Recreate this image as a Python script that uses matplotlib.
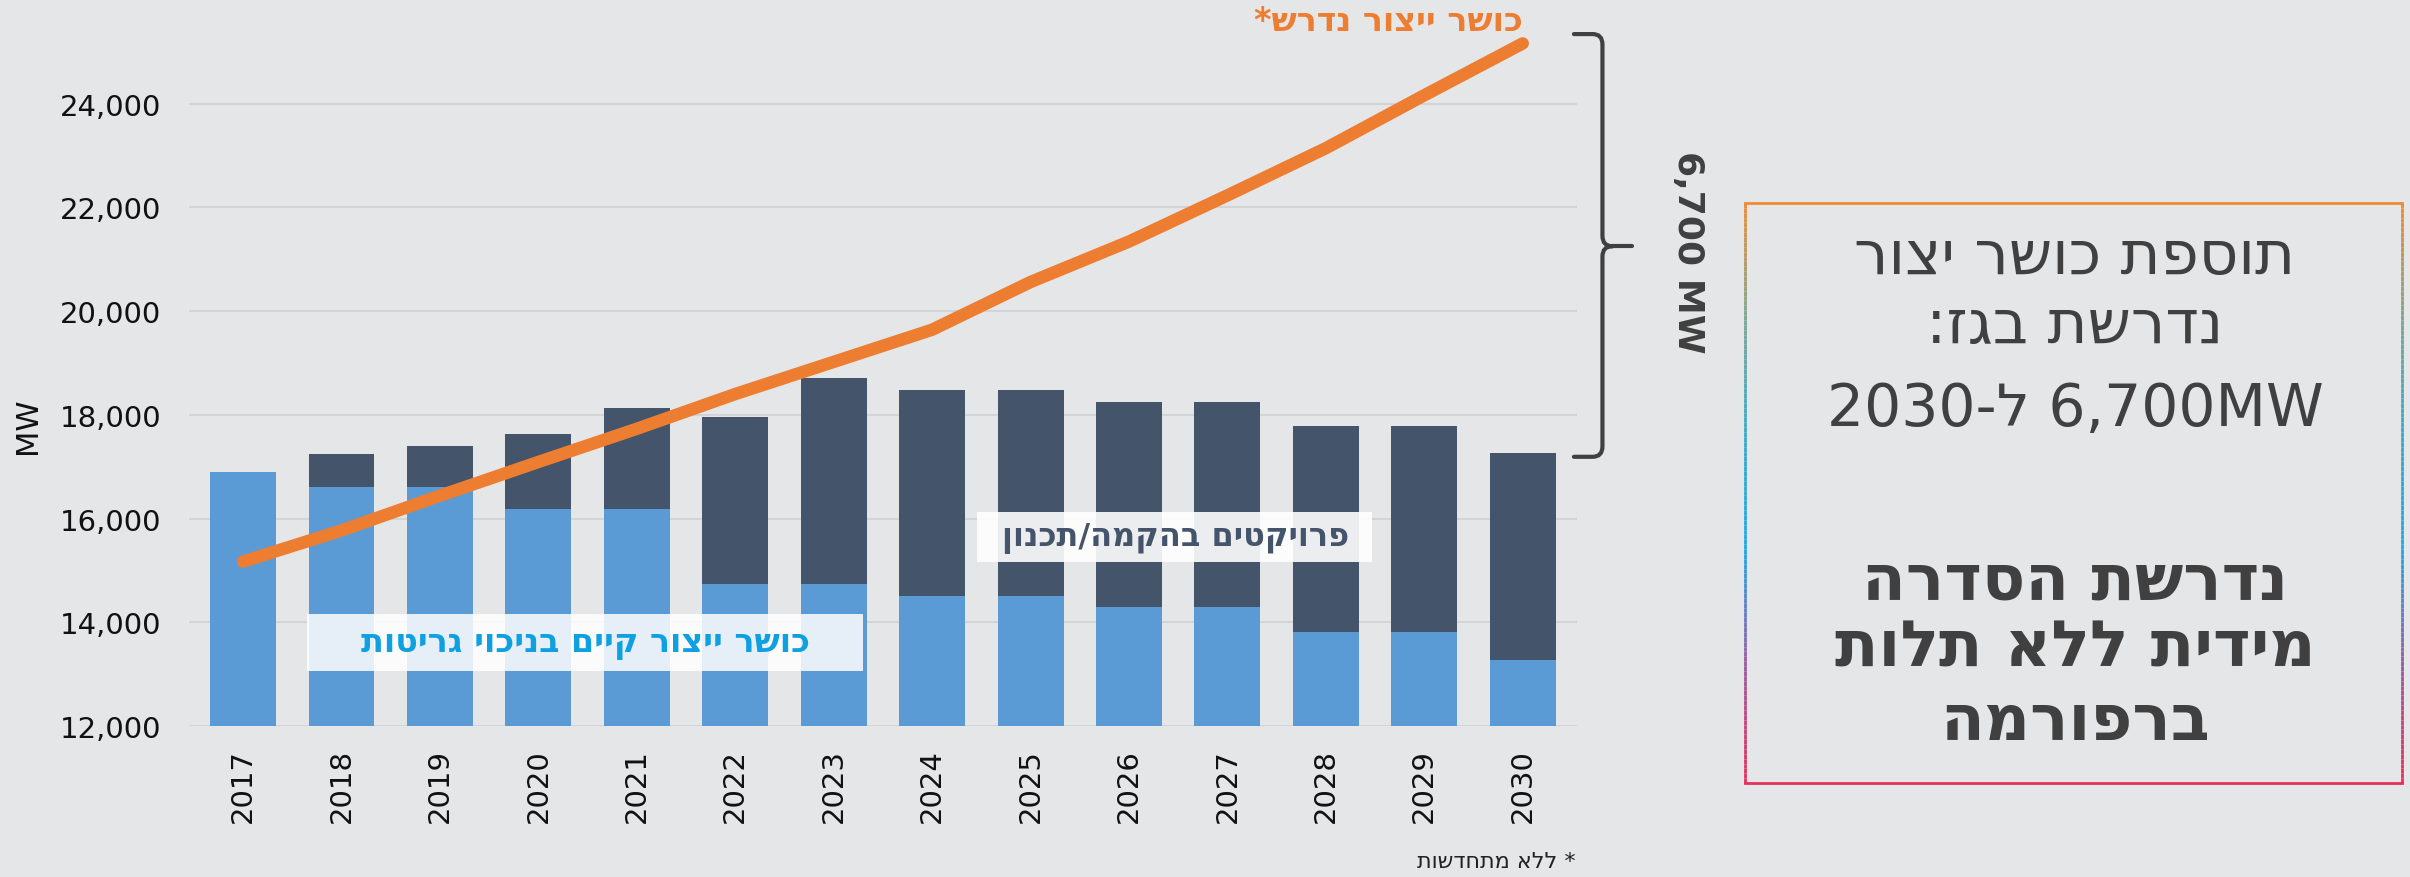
import numpy as np
import matplotlib.pyplot as plt
from matplotlib.path import Path
from matplotlib.patches import PathPatch, Rectangle
from matplotlib.collections import LineCollection
from matplotlib.colors import LinearSegmentedColormap

plt.rcParams['font.family'] = ['DejaVu Sans']

years = ['2017', '2018', '2019', '2020', '2021', '2022', '2023',
         '2024', '2025', '2026', '2027', '2028', '2029', '2030']
# existing capacity net of retirements (MW)
existing = [16890, 16610, 16610, 16180, 16180, 14730, 14730,
            14500, 14500, 14290, 14290, 13810, 13810, 13280]
# existing + projects under construction / planning (MW)
total = [16890, 17240, 17390, 17620, 18140, 17950, 18700,
         18480, 18480, 18250, 18250, 17790, 17790, 17260]
# required capacity (MW)
required = [15170, 15770, 16440, 17090, 17730, 18400, 19020,
            19640, 20560, 21340, 22230, 23140, 24160, 25160]
yticks = [12000, 14000, 16000, 18000, 20000, 22000, 24000]


def rtl(s):
    # matplotlib has no bidi support, so hebrew is drawn reversed
    return s[::-1]


bg = '#e5e6e8'
blue = '#5b9bd5'
navy = '#44546a'
orange = '#ed7d31'
dark = '#404040'

fig = plt.figure(figsize=(24.1, 8.78), dpi=100, facecolor=bg)
ax = fig.add_axes([0.0784, 0.172, 0.5759, 0.7975])
ax.set_facecolor('none')

x = np.arange(len(years))
projects = np.array(total) - np.array(existing)
ax.bar(x, existing, width=0.67, color=blue, zorder=2)
ax.bar(x, projects, bottom=existing, width=0.67, color=navy, zorder=2)
ax.plot(x, required, color=orange, lw=9, solid_capstyle='round',
        solid_joinstyle='round', zorder=5, clip_on=False)

ax.set_xlim(-0.55, 13.55)
ax.set_ylim(12000, 25500)
ax.set_yticks(yticks, [f'{v:,}' for v in yticks])
ax.set_xticks(x, years, rotation=90)
ax.tick_params(length=0, labelsize=21, colors='#111111')
ax.tick_params(axis='x', pad=16)
ax.tick_params(axis='y', pad=20)
ax.grid(axis='y', color='#d3d4d6', lw=1.5, zorder=0)
ax.set_axisbelow(True)
for s in ax.spines.values():
    s.set_visible(False)

fig.text(0.0116, 0.515, 'MW', rotation=90, fontsize=22, color='#111111',
         ha='center', va='center')

# series labels inside the chart
ax.add_patch(Rectangle((0.65, 13060), 5.65, 1100, facecolor='white',
                       alpha=0.85, edgecolor='none', zorder=3))
ax.text(3.48, 13610, rtl('כושר ייצור קיים בניכוי גריטות'), color='#0ea0e0',
        fontsize=24, fontweight='bold', ha='center', va='center', zorder=4)
ax.add_patch(Rectangle((7.46, 15160), 4.01, 966, facecolor='white',
                       alpha=0.9, edgecolor='none', zorder=3))
ax.text(9.47, 15640, rtl('פרויקטים בהקמה/תכנון'), color=navy,
        fontsize=23, fontweight='bold', ha='center', va='center', zorder=4)

fig.text(0.576, 0.975, rtl('כושר ייצור נדרש*'), color=orange, fontsize=24,
         fontweight='bold', ha='center', va='center')

# curly bracket for the gap
top, mid, bot = 25340, 21250, 17190
xl, xv, xt = 13.52, 13.81, 14.11
r = 200
verts = [(xl, top), (xv - 0.1, top), (xv, top), (xv, top - r),
         (xv, mid + r), (xv, mid), (xv + 0.1, mid),
         (xv + 0.1, mid), (xv, mid), (xv, mid - r),
         (xv, bot + r), (xv, bot), (xv - 0.1, bot), (xl, bot)]
codes = [Path.MOVETO, Path.LINETO, Path.CURVE3, Path.CURVE3,
         Path.LINETO, Path.CURVE3, Path.CURVE3,
         Path.MOVETO, Path.CURVE3, Path.CURVE3,
         Path.LINETO, Path.CURVE3, Path.CURVE3, Path.LINETO]
ax.add_patch(PathPatch(Path(verts, codes), facecolor='none', edgecolor=dark,
                       lw=3, clip_on=False, zorder=4, capstyle='round'))
ax.plot([xv + 0.1, xt], [mid, mid], color=dark, lw=3, clip_on=False,
        solid_capstyle='round', zorder=4)
fig.text(0.7004, 0.713, '6,700 MW', rotation=270, fontsize=26,
         fontweight='bold', color=dark, ha='center', va='center')

# right hand box with gradient border
bx0, bx1, by0, by1 = 0.724, 0.9967, 0.107, 0.7677
grad = LinearSegmentedColormap.from_list(
    'border', ['#e8305a', '#9a5aa0', '#1ea8e8', '#3aa8c8', '#7aa590', '#f08a30'])
ys = np.linspace(by0, by1, 120)
for xs in (bx0, bx1):
    segs = [[(xs, ys[i]), (xs, ys[i + 1])] for i in range(len(ys) - 1)]
    cols = grad((ys[:-1] - by0) / (by1 - by0))
    fig.add_artist(LineCollection(segs, colors=cols, linewidths=2,
                                  transform=fig.transFigure))
fig.add_artist(plt.Line2D([bx0, bx1], [by1, by1], color='#f08a30', lw=2,
                          transform=fig.transFigure))
fig.add_artist(plt.Line2D([bx0, bx1], [by0, by0], color='#e8305a', lw=2,
                          transform=fig.transFigure))

cx = 0.861
fig.text(cx, 0.707, rtl('תוספת כושר יצור'), fontsize=44, color=dark,
         ha='center', va='center')
fig.text(cx, 0.628, rtl('נדרשת בגז:'), fontsize=44, color=dark,
         ha='center', va='center')
fig.text(cx, 0.534, '2030-' + 'ל' + ' 6,700MW', fontsize=42, color=dark,
         ha='center', va='center')
fig.text(cx, 0.338, rtl('נדרשת הסדרה'), fontsize=46, fontweight='bold',
         color=dark, ha='center', va='center')
fig.text(cx, 0.261, rtl('מידית ללא תלות'), fontsize=46, fontweight='bold',
         color=dark, ha='center', va='center')
fig.text(cx, 0.178, rtl('ברפורמה'), fontsize=46, fontweight='bold',
         color=dark, ha='center', va='center')

fig.text(0.6207, 0.018, rtl('* ללא מתחדשות'), fontsize=16, color='#222222',
         ha='center', va='center')

fig.savefig('out.png', dpi=100, facecolor=bg)
